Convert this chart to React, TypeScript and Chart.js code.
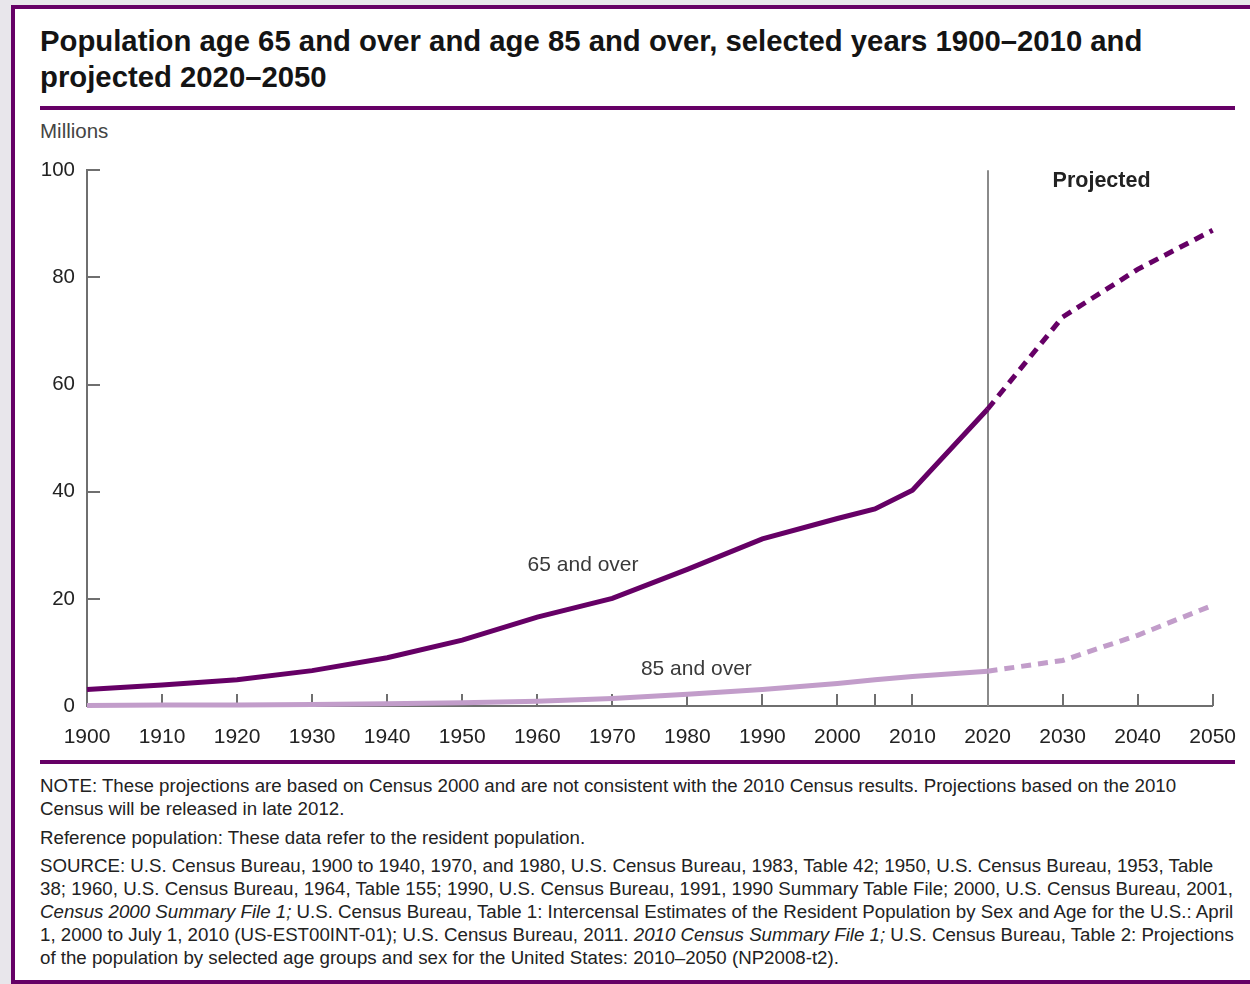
import React, { useEffect, useRef } from "react";
import { Chart, registerables } from "chart.js";

Chart.register(...registerables);

// ---------- data ----------
const years = [1900, 1910, 1920, 1930, 1940, 1950, 1960, 1970, 1980, 1990, 2000, 2005, 2010, 2020, 2030, 2040, 2050];
const age65Over = [3.1, 3.9, 4.9, 6.6, 9.0, 12.3, 16.6, 20.1, 25.5, 31.2, 35.0, 36.8, 40.3, 55.4, 72.6, 81.5, 88.8];
const age85Over = [0.1, 0.2, 0.2, 0.3, 0.4, 0.6, 0.9, 1.4, 2.2, 3.1, 4.2, 4.9, 5.5, 6.5, 8.5, 13.2, 18.8];
const projectionStart = 2020;
const yTickValues = [0, 20, 40, 60, 80, 100];
const xTickValues = [1900, 1910, 1920, 1930, 1940, 1950, 1960, 1970, 1980, 1990, 2000, 2010, 2020, 2030, 2040, 2050];
const seriesNames = ["65 and over", "85 and over"];

const PURPLE = "#660066";
const LIGHT_PURPLE = "#c29dca";
const AXIS_GRAY = "#6f6f6f";
const FONT = '"Liberation Sans", Arial, Helvetica, sans-serif';

const overlayPlugin = {
  id: "overlay",
  beforeDatasetsDraw(chart: any) {
    const { ctx, scales } = chart;
    const x = scales.x;
    const y = scales.y;
    const y0 = y.getPixelForValue(0);
    const x0 = x.getPixelForValue(years[0]);
    ctx.save();
    ctx.strokeStyle = AXIS_GRAY;
    ctx.lineWidth = 2;
    // inward x tick marks (every data year except the first)
    years.slice(1).forEach((v) => {
      const px = Math.round(x.getPixelForValue(v));
      ctx.beginPath();
      ctx.moveTo(px, y0);
      ctx.lineTo(px, y0 - 12);
      ctx.stroke();
    });
    // inward y tick marks
    yTickValues.slice(1).forEach((v) => {
      const py = Math.round(y.getPixelForValue(v));
      ctx.beginPath();
      ctx.moveTo(x0, py);
      ctx.lineTo(x0 + 13, py);
      ctx.stroke();
    });
    // projection divider
    const px = Math.round(x.getPixelForValue(projectionStart));
    ctx.strokeStyle = "#8a8a8a";
    ctx.beginPath();
    ctx.moveTo(px, y.getPixelForValue(100));
    ctx.lineTo(px, y0);
    ctx.stroke();
    ctx.restore();
  },
  afterDatasetsDraw(chart: any) {
    const { ctx, scales } = chart;
    const x = scales.x;
    const y = scales.y;
    ctx.save();
    ctx.textAlign = "center";
    ctx.textBaseline = "middle";
    ctx.fillStyle = "#3a3a3a";
    ctx.font = `21px ${FONT}`;
    ctx.fillText(seriesNames[0], x.getPixelForValue(1966.1), y.getPixelForValue(26.3));
    ctx.fillText(seriesNames[1], x.getPixelForValue(1981.2), y.getPixelForValue(6.9));
    ctx.fillStyle = "#222";
    ctx.font = `bold 21.5px ${FONT}`;
    ctx.fillText("Projected", x.getPixelForValue(2035.2), y.getPixelForValue(98.0));
    ctx.restore();
  },
};

const dashAfter = (ctx: any) => (ctx.p0.parsed.x >= projectionStart ? [10, 7] : undefined);

function PopulationChart() {
  const ref = useRef<HTMLCanvasElement | null>(null);
  useEffect(() => {
    if (!ref.current) return;
    const chart = new Chart(ref.current, {
      type: "line",
      data: {
        datasets: [
          {
            label: seriesNames[0],
            data: years.map((yr, i) => ({ x: yr, y: age65Over[i] })),
            borderColor: PURPLE,
            borderWidth: 5,
            pointRadius: 0,
            tension: 0,
            clip: false as any,
            segment: { borderDash: dashAfter },
          },
          {
            label: seriesNames[1],
            data: years.map((yr, i) => ({ x: yr, y: age85Over[i] })),
            borderColor: LIGHT_PURPLE,
            borderWidth: 5,
            pointRadius: 0,
            tension: 0,
            clip: false as any,
            segment: { borderDash: dashAfter },
          },
        ],
      },
      options: {
        animation: false,
        responsive: false,
        events: [],
        layout: { padding: 0 },
        plugins: { legend: { display: false }, tooltip: { enabled: false } },
        scales: {
          x: {
            type: "linear",
            min: 1900,
            max: 2050,
            afterBuildTicks: (s: any) => {
              s.ticks = xTickValues.map((v) => ({ value: v }));
            },
            ticks: {
              autoSkip: false,
              maxRotation: 0,
              padding: 19,
              color: "#222",
              font: { family: FONT, size: 21 },
              callback: (v: any) => String(v),
            },
            grid: { display: false, drawTicks: false },
            border: { display: true, color: AXIS_GRAY, width: 2 },
            afterFit: (s: any) => {
              s.height = 54;
            },
          },
          y: {
            min: 0,
            max: 100,
            afterBuildTicks: (s: any) => {
              s.ticks = yTickValues.map((v) => ({ value: v }));
            },
            ticks: {
              padding: 12,
              color: "#222",
              font: { family: FONT, size: 20.5 },
            },
            grid: { display: false, drawTicks: false },
            border: { display: true, color: AXIS_GRAY, width: 2 },
            afterFit: (s: any) => {
              s.width = 57;
            },
          },
        },
      },
      plugins: [overlayPlugin],
    });
    return () => chart.destroy();
  }, []);
  return <canvas ref={ref} width={1225} height={614} style={{ width: 1225, height: 614, display: "block" }} />;
}

const noteStyle: React.CSSProperties = { whiteSpace: "nowrap", height: 23, lineHeight: "23px" };

export default function App() {
  return (
    <div
      style={{
        position: "fixed",
        left: 0,
        top: 0,
        width: 1250,
        height: 984,
        background: "#e8e6eb",
        overflow: "hidden",
        fontFamily: FONT,
      }}
    >
      <div
        style={{
          position: "absolute",
          left: 11,
          top: 5,
          width: 1270,
          height: 971,
          background: "#fff",
          borderLeft: `4px solid ${PURPLE}`,
          borderTop: `4px solid ${PURPLE}`,
          borderBottom: `4px solid ${PURPLE}`,
        }}
      />
      <div
        style={{
          position: "absolute",
          left: 40,
          top: 23,
          fontSize: 29.3,
          fontWeight: "bold",
          lineHeight: "36px",
          color: "#141414",
          whiteSpace: "nowrap",
        }}
      >
        <div>Population age 65 and over and age 85 and over, selected years 1900–2010 and</div>
        <div>projected 2020–2050</div>
      </div>
      <div style={{ position: "absolute", left: 40, top: 106, width: 1195, height: 4, background: PURPLE }} />
      <div style={{ position: "absolute", left: 40, top: 119, fontSize: 20.5, color: "#444", lineHeight: "24px" }}>Millions</div>
      <div style={{ position: "absolute", left: 30, top: 146 }}>
        <PopulationChart />
      </div>
      <div style={{ position: "absolute", left: 40, top: 760, width: 1195, height: 4, background: PURPLE }} />
      <div style={{ position: "absolute", left: 40, top: 774, fontSize: 18.7, color: "#222" }}>
        <div style={noteStyle}>
          NOTE: These projections are based on Census 2000 and are not consistent with the 2010 Census results. Projections based on the 2010
        </div>
        <div style={noteStyle}>Census will be released in late 2012.</div>
        <div style={{ ...noteStyle, marginTop: 6 }}>Reference population: These data refer to the resident population.</div>
        <div style={{ ...noteStyle, marginTop: 5 }}>
          SOURCE: U.S. Census Bureau, 1900 to 1940, 1970, and 1980, U.S. Census Bureau, 1983, Table 42; 1950, U.S. Census Bureau, 1953, Table
        </div>
        <div style={noteStyle}>
          38; 1960, U.S. Census Bureau, 1964, Table 155; 1990, U.S. Census Bureau, 1991, 1990 Summary Table File; 2000, U.S. Census Bureau, 2001,
        </div>
        <div style={noteStyle}>
          <i>Census 2000 Summary File 1;</i> U.S. Census Bureau, Table 1: Intercensal Estimates of the Resident Population by Sex and Age for the U.S.: April
        </div>
        <div style={noteStyle}>
          1, 2000 to July 1, 2010 (US-EST00INT-01); U.S. Census Bureau, 2011. <i>2010 Census Summary File 1;</i> U.S. Census Bureau, Table 2: Projections
        </div>
        <div style={noteStyle}>of the population by selected age groups and sex for the United States: 2010–2050 (NP2008-t2).</div>
      </div>
    </div>
  );
}
